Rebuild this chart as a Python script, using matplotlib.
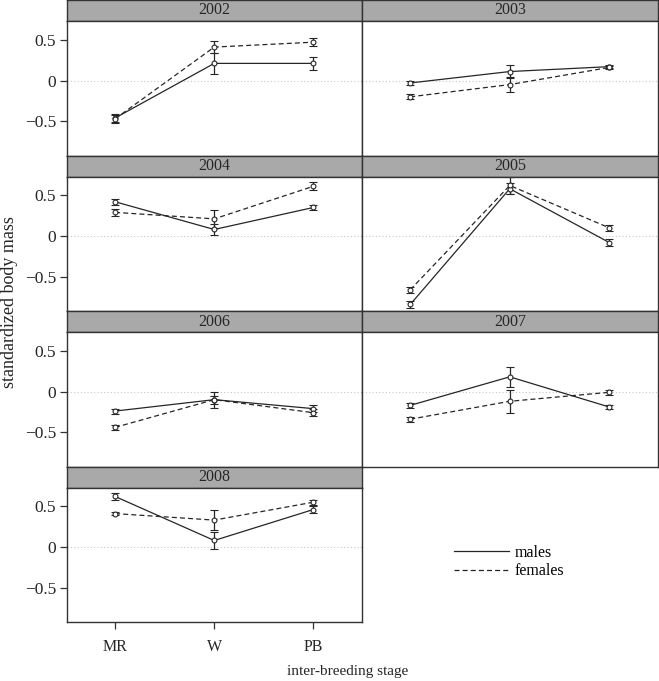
import numpy as np
import matplotlib
matplotlib.use("Agg")
import matplotlib.pyplot as plt
from matplotlib.lines import Line2D

plt.rcParams["font.family"] = ["Liberation Serif", "DejaVu Serif"]
plt.rcParams["axes.unicode_minus"] = True

stages = ["MR", "W", "PB"]
years = ["2002", "2003", "2004", "2005", "2006", "2007", "2008"]

# mean standardized body mass per stage (MR, W, PB)
males_mean = [
    [-0.46, 0.21, 0.21],
    [-0.03, 0.11, 0.17],
    [0.42, 0.08, 0.35],
    [-0.84, 0.58, -0.08],
    [-0.24, -0.10, -0.21],
    [-0.17, 0.18, -0.19],
    [0.62, 0.08, 0.46],
]
males_err = [
    [0.05, 0.13, 0.08],
    [0.03, 0.08, 0.02],
    [0.04, 0.07, 0.03],
    [0.04, 0.07, 0.04],
    [0.03, 0.10, 0.04],
    [0.03, 0.12, 0.03],
    [0.04, 0.10, 0.04],
]
females_mean = [
    [-0.47, 0.41, 0.47],
    [-0.20, -0.05, 0.16],
    [0.29, 0.21, 0.61],
    [-0.66, 0.62, 0.10],
    [-0.44, -0.10, -0.26],
    [-0.34, -0.12, -0.01],
    [0.41, 0.33, 0.55],
]
females_err = [
    [0.05, 0.07, 0.05],
    [0.03, 0.09, 0.02],
    [0.04, 0.11, 0.05],
    [0.04, 0.10, 0.04],
    [0.03, 0.05, 0.04],
    [0.03, 0.14, 0.03],
    [0.02, 0.12, 0.03],
]

W, H = 659, 681
fig = plt.figure(figsize=(W / 100, H / 100), dpi=100)

edge = "#333333"
ink = "#262626"
col_x = [(67, 362), (362, 658)]
row_h = 155.5
strip_h = 21
x = np.arange(1, 4)


def frac(x0, y0, x1, y1):
    return [x0 / W, 1 - y1 / H, (x1 - x0) / W, (y1 - y0) / H]


for i, yr in enumerate(years):
    r, c = divmod(i, 2)
    x0, x1 = col_x[c]
    top = r * row_h
    sax = fig.add_axes(frac(x0, top, x1, top + strip_h))
    sax.set_facecolor("#a9a9a9")
    sax.set_xticks([])
    sax.set_yticks([])
    sax.text(0.5, 0.5, yr, ha="center", va="center", fontsize=11.5, color=ink)
    ax = fig.add_axes(frac(x0, top + strip_h, x1, top + row_h))
    for a in (sax, ax):
        for s in a.spines.values():
            s.set_color(edge)
            s.set_linewidth(1.0)

    ax.axhline(0, color="#c8c8c8", lw=0.8, ls=(0, (1, 2)), zorder=0)
    ax.errorbar(x, males_mean[i], yerr=males_err[i], color=ink, lw=0.9,
                ls="-", marker="o", ms=3.5, mfc="white", mew=0.8,
                capsize=2.8, elinewidth=0.9, capthick=0.9)
    ax.errorbar(x, females_mean[i], yerr=females_err[i], color=ink, lw=0.9,
                ls=(0, (4, 2.5)), marker="o", ms=3.5, mfc="white", mew=0.8,
                capsize=2.8, elinewidth=0.9, capthick=0.9)
    ax.set_xlim(0.515, 3.49)
    ax.set_ylim(-0.92, 0.73)

    if c == 0:
        ax.set_yticks([-0.5, 0, 0.5])
        ax.set_yticklabels(["\u22120.5", "0", "0.5"])
        ax.tick_params(axis="y", length=5, width=0.9, color=edge, labelsize=12.5,
                       labelcolor=ink, direction="out", pad=3)
    else:
        ax.set_yticks([])
    if i == len(years) - 1:
        ax.set_xticks(x)
        ax.set_xticklabels(stages)
        ax.tick_params(axis="x", length=5, width=0.9, color=edge, labelsize=11.5,
                       labelcolor=ink, direction="out", pad=7)
    else:
        ax.set_xticks([])

fig.text(10 / W, 1 - 302 / H, "standardized body mass", rotation=90,
         ha="center", va="center", fontsize=13, color=ink)
fig.text(348 / W, 1 - 672 / H, "inter-breeding stage",
         ha="center", va="center", fontsize=11, color=ink)

handles = [
    Line2D([], [], color=ink, lw=0.9, ls="-"),
    Line2D([], [], color=ink, lw=0.9, ls=(0, (4, 2.5))),
]
fig.legend(handles, ["males", "females"], loc="center left",
           bbox_to_anchor=(440 / W, 1 - 562 / H), frameon=False,
           fontsize=11.5, handlelength=3.4, handletextpad=0.35,
           labelspacing=0.15)

fig.savefig("out.png", dpi=100)
